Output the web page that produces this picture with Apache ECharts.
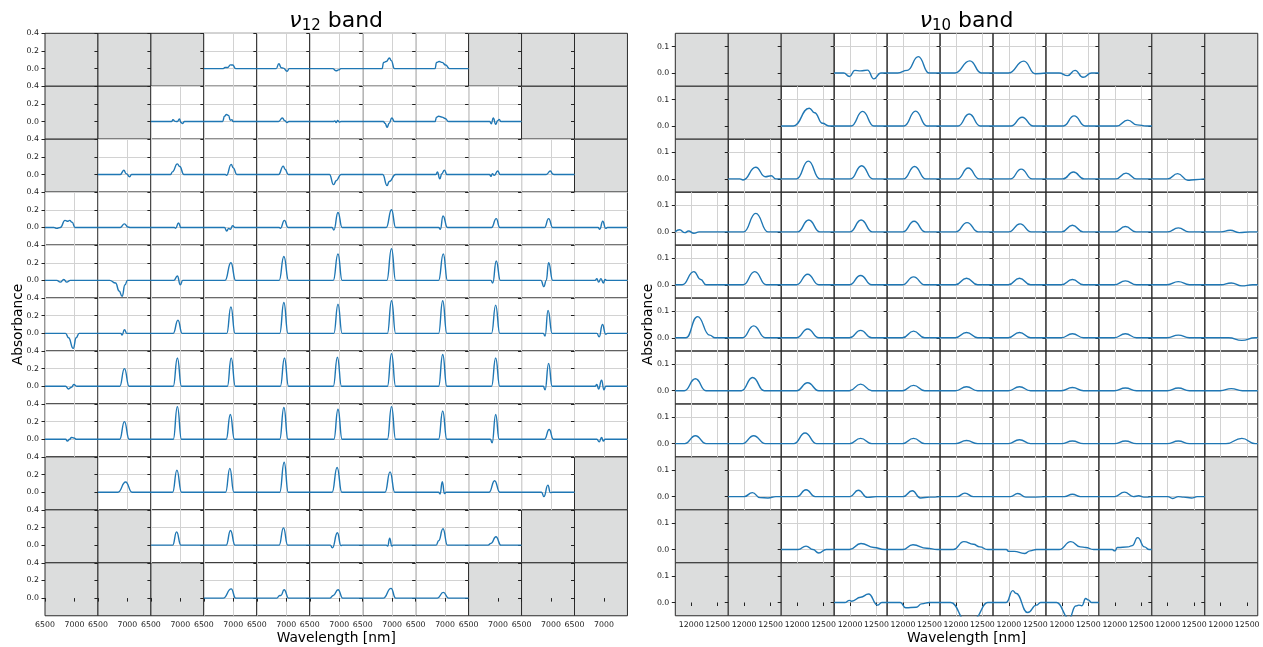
<!DOCTYPE html>
<html>
<head>
<meta charset="utf-8">
<title>Absorbance maps of the ν12 and ν10 bands</title>
<script src="https://cdn.jsdelivr.net/npm/echarts@6/dist/echarts.min.js"></script>
<style>
  html, body { margin: 0; padding: 0; background: #ffffff; }
  #chart { width: 1263px; height: 647px; }
</style>
</head>
<body>
<div id="chart"></div>
<script>
// ---------- tick values ----------
const nu12XTicks = [6500, 7000];
const nu12YTicks = [0, 0.2, 0.4];
const nu10XTicks = [12000, 12500];
const nu10YTicks = [0, 0.1];

// ---------- ν12 band spectra: one row of the 11x11 map per array, null = no data ----------
// each spectrum is a list of [wavelength nm, absorbance] points
const nu12Row0 = [null, null, null,
  [[6500,0],[6830,0],[6860,0.012],[6905,0.012],[6950,0.042],[6990,0.04],[7040,0],[7400,0]],
  [[6500,0],[6830,0],[6875,0.055],[6915,0.01],[6950,0.005],[7015,-0.03],[7050,0],[7400,0]],
  [[6500,0],[6890,0],[6950,-0.025],[6990,-0.015],[7030,0],[7400,0]],
  [[6500,0],[6830,0],[6855,0.07],[6900,0.08],[6955,0.12],[6985,0.09],[7040,0],[7400,0]],
  [[6500,0],[6830,0],[6855,0.07],[6900,0.08],[6950,0.07],[7010,0.04],[7075,0],[7400,0]],
  null, null, null];
const nu12Row1 = [null, null,
  [[6500,0],[6850,0],[6875,0.02],[6915,0.002],[6950,0],[6985,0.03],[7010,-0.01],[7040,-0.022],[7070,0],[7400,0]],
  [[6500,0],[6820,0],[6850,0.06],[6885,0.08],[6920,0.07],[6950,0.015],[6975,0.02],[7000,0],[7400,0]],
  [[6500,0],[6870,0],[6935,0.04],[6975,0.01],[7015,-0.01],[7045,0],[7400,0]],
  [[6500,0],[6900,0],[6925,0.008],[6950,-0.01],[6975,0.012],[7000,-0.005],[7030,0],[7400,0]],
  [[6500,0],[6850,0],[6880,-0.02],[6915,-0.065],[6950,-0.02],[6995,0.04],[7040,0],[7400,0]],
  [[6500,0],[6830,0],[6855,0.05],[6890,0.06],[6950,0.05],[7000,0.035],[7060,0],[7400,0]],
  [[6500,0],[6860,0],[6885,-0.025],[6920,0.04],[6960,-0.03],[6995,0.01],[7020,0.025],[7050,0],[7400,0]],
  null, null];
const nu12Row2 = [null,
  [[6500,0],[6880,0],[6940,0.048],[6980,0.01],[7040,-0.025],[7070,0],[7400,0]],
  [[6500,0],[6835,0],[6865,0.03],[6950,0.12],[6990,0.09],[7060,0],[7400,0]],
  [[6500,0],[6865,0],[6885,-0.01],[6965,0.115],[7000,0.075],[7060,0],[7400,0]],
  [[6500,0],[6870,0],[6950,0.095],[6980,0.06],[7035,0],[7400,0]],
  [[6500,0],[6835,0],[6905,-0.115],[6950,-0.07],[7030,0],[7400,0]],
  [[6500,0],[6840,0],[6915,-0.125],[6950,-0.08],[7060,0],[7400,0]],
  [[6500,0],[6845,0],[6870,0.03],[6910,-0.05],[6945,0.01],[6990,0.05],[7030,0],[7400,0]],
  [[6500,0],[6855,0],[6880,-0.02],[6905,0.01],[6935,-0.01],[6995,0.04],[7035,0],[7400,0]],
  [[6500,0],[6920,0],[6990,0.04],[7030,0.005],[7060,0],[7400,0]],
  null];
const nu12Row3 = [
  [[6500,0],[6650,0],[6700,-0.01],[6760,0],[6840,0.08],[6890,0.07],[6920,0.08],[6960,0.06],[7010,0],[7400,0]],
  [[6500,0],[6880,0],[6950,0.04],[7010,0.005],[7050,0],[7400,0]],
  [[6500,0],[6900,0],[6920,-0.01],[6970,0.05],[7010,0],[7400,0]],
  [[6500,0],[6850,0],[6890,-0.04],[6920,-0.01],[6950,-0.02],[6990,0.02],[7030,0],[7400,0]],
  [[6500,0],[6880,0],[6900,-0.01],[6970,0.08],[7030,0],[7400,0]],
  [[6500,0],[6880,0],[6910,-0.03],[6980,0.17],[7050,0],[7400,0]],
  [[6500,0],[6900,0],[6990,0.2],[7060,0],[7400,0]],
  [[6500,0],[6890,0],[6920,-0.02],[6965,0.13],[7040,0],[7400,0]],
  [[6500,0],[6890,0],[6970,0.1],[7030,0],[7400,0]],
  [[6500,0],[6890,0],[6960,0.1],[7030,0],[7400,0]],
  [[6500,0],[6900,0],[6930,-0.02],[6980,0.07],[7030,-0.01],[7060,0],[7400,0]]];
const nu12Row4 = [
  [[6500,0],[6700,0],[6760,-0.02],[6820,0.01],[6870,-0.02],[6930,0],[7400,0]],
  [[6500,0],[6700,0],[6800,-0.03],[6860,-0.12],[6910,-0.18],[6960,-0.05],[7000,0],[7400,0]],
  [[6500,0],[6890,0],[6950,0.05],[7000,-0.05],[7040,0],[7400,0]],
  [[6500,0],[6860,0],[6960,0.2],[7040,0],[7400,0]],
  [[6500,0],[6880,0],[6960,0.27],[7040,0],[7400,0]],
  [[6500,0],[6900,0],[6980,0.3],[7050,0],[7400,0]],
  [[6500,0],[6910,0],[6990,0.36],[7060,0],[7400,0]],
  [[6500,0],[6890,0],[6970,0.3],[7040,0],[7400,0]],
  [[6500,0],[6880,0],[6910,-0.03],[6970,0.22],[7040,0],[7400,0]],
  [[6500,0],[6830,0],[6880,-0.07],[6920,0],[6960,0.2],[7030,0],[7400,0]],
  [[6500,0],[6850,0],[6880,0.02],[6910,-0.02],[6950,0.02],[6990,-0.03],[7020,0.01],[7050,0],[7400,0]]];
const nu12Row5 = [
  [[6500,0],[6850,0],[6900,-0.05],[6980,-0.17],[7030,-0.05],[7080,0],[7400,0]],
  [[6500,0],[6890,0],[6910,-0.02],[6950,0.04],[6990,0],[7400,0]],
  [[6500,0],[6880,0],[6960,0.15],[7030,0],[7400,0]],
  [[6500,0],[6890,0],[6960,0.3],[7030,0],[7400,0]],
  [[6500,0],[6890,0],[6960,0.35],[7030,0],[7400,0]],
  [[6500,0],[6910,0],[6980,0.33],[7050,0],[7400,0]],
  [[6500,0],[6920,0],[6990,0.37],[7060,0],[7400,0]],
  [[6500,0],[6890,0],[6960,0.37],[7030,0],[7400,0]],
  [[6500,0],[6890,0],[6960,0.32],[7030,0],[7400,0]],
  [[6500,0],[6870,0],[6900,-0.03],[6950,0.26],[7020,0],[7400,0]],
  [[6500,0],[6880,0],[6920,-0.04],[6975,0.1],[7030,-0.01],[7060,0],[7400,0]]];
const nu12Row6 = [
  [[6500,0],[6850,0],[6900,-0.03],[6950,-0.01],[6990,0.02],[7040,0],[7400,0]],
  [[6500,0],[6870,0],[6950,0.2],[7030,0],[7400,0]],
  [[6500,0],[6880,0],[6950,0.32],[7020,0],[7400,0]],
  [[6500,0],[6900,0],[6965,0.32],[7035,0],[7400,0]],
  [[6500,0],[6900,0],[6970,0.32],[7040,0],[7400,0]],
  [[6500,0],[6900,0],[6970,0.33],[7040,0],[7400,0]],
  [[6500,0],[6920,0],[6990,0.37],[7060,0],[7400,0]],
  [[6500,0],[6890,0],[6960,0.36],[7030,0],[7400,0]],
  [[6500,0],[6890,0],[6960,0.32],[7030,0],[7400,0]],
  [[6500,0],[6870,0],[6900,-0.04],[6960,0.26],[7020,0],[7400,0]],
  [[6500,0],[6850,0],[6880,0.02],[6910,-0.03],[6960,0.07],[7000,-0.04],[7030,0],[7400,0]]];
const nu12Row7 = [
  [[6500,0],[6850,0],[6880,-0.02],[6920,0],[6950,0.02],[6990,0.015],[7030,0],[7400,0]],
  [[6500,0],[6870,0],[6950,0.2],[7030,0],[7400,0]],
  [[6500,0],[6880,0],[6950,0.37],[7020,0],[7400,0]],
  [[6500,0],[6880,0],[6950,0.28],[7020,0],[7400,0]],
  [[6500,0],[6890,0],[6960,0.36],[7030,0],[7400,0]],
  [[6500,0],[6910,0],[6980,0.34],[7050,0],[7400,0]],
  [[6500,0],[6920,0],[6990,0.37],[7060,0],[7400,0]],
  [[6500,0],[6890,0],[6960,0.32],[7030,0],[7400,0]],
  [[6500,0],[6870,0],[6900,-0.04],[6960,0.28],[7020,0],[7400,0]],
  [[6500,0],[6890,0],[6970,0.11],[7040,0],[7400,0]],
  [[6500,0],[6880,0],[6920,-0.03],[6960,0.02],[6990,-0.02],[7020,0],[7400,0]]];
const nu12Row8 = [null,
  [[6500,0],[6840,0],[6970,0.115],[7080,0],[7400,0]],
  [[6500,0],[6870,0],[6942,0.25],[7020,0],[7400,0]],
  [[6500,0],[6870,0],[6942,0.27],[7010,0],[7400,0]],
  [[6500,0],[6890,0],[6965,0.34],[7035,0],[7400,0]],
  [[6500,0],[6880,0],[6965,0.28],[7045,0],[7400,0]],
  [[6500,0],[6880,0],[6965,0.23],[7045,0],[7400,0]],
  [[6500,0],[6890,0],[6915,-0.02],[6953,0.12],[6990,-0.015],[7020,0],[7400,0]],
  [[6500,0],[6850,0],[6942,0.13],[7030,0],[7400,0]],
  [[6500,0],[6840,0],[6880,-0.05],[6948,0.08],[6990,-0.005],[7030,0],[7400,0]],
  null];
const nu12Row9 = [null, null,
  [[6500,0],[6870,0],[6937,0.15],[7010,0],[7400,0]],
  [[6500,0],[6880,0],[6953,0.166],[7030,0],[7400,0]],
  [[6500,0],[6880,0],[6953,0.196],[7025,0],[7400,0]],
  [[6500,0],[6850,0],[6885,-0.03],[6970,0.14],[7030,-0.005],[7050,0],[7400,0]],
  [[6500,0],[6900,0],[6925,-0.01],[6959,0.08],[6995,-0.01],[7020,0],[7400,0]],
  [[6500,0],[6850,0],[6890,0.05],[6965,0.185],[7040,0],[7400,0]],
  [[6500,0],[6830,0],[6880,0.02],[6965,0.095],[7050,0],[7400,0]],
  null, null];
const nu12Row10 = [null, null, null,
  [[6500,0],[6830,0],[6965,0.105],[7040,0],[7400,0]],
  [[6500,0],[6840,0],[6890,0.03],[6910,0.03],[6965,0.095],[7040,0],[7400,0]],
  [[6500,0],[6840,0],[6900,0.03],[6982,0.095],[7060,0],[7400,0]],
  [[6500,0],[6850,0],[6982,0.11],[7060,0],[7400,0]],
  [[6500,0],[6870,0],[6970,0.065],[7060,0],[7400,0]],
  null, null, null];

// ---------- ν10 band spectra ----------
const nu10Row0 = [null, null, null,
  [[11700,0],[11880,0],[11990,-0.013],[12090,0.01],[12200,0.008],[12330,0.011],[12450,-0.022],[12580,0],[12700,0]],
  [[11700,0],[11900,0],[12080,0.01],[12290,0.062],[12490,0],[12700,0]],
  [[11700,0],[11980,0],[12263,0.046],[12480,0],[12700,0]],
  [[11700,0],[11990,0],[12282,0.045],[12500,-0.003],[12700,0]],
  [[11700,0],[11950,0],[12107,-0.01],[12250,0.01],[12400,-0.016],[12560,0],[12700,0]],
  null, null, null];
const nu10Row1 = [null, null,
  [[11700,0],[11930,0],[12230,0.067],[12330,0.05],[12480,0.01],[12600,0],[12700,0]],
  [[11700,0],[12020,0],[12238,0.055],[12450,0],[12700,0]],
  [[11700,0],[12020,0],[12238,0.056],[12450,0],[12700,0]],
  [[11700,0],[12040,0],[12250,0.045],[12460,0],[12700,0]],
  [[11700,0],[12040,0],[12250,0.033],[12460,0],[12700,0]],
  [[11700,0],[12030,0],[12232,0.038],[12440,0],[12700,0]],
  [[11700,0],[12040,0],[12244,0.022],[12420,0.004],[12600,0],[12700,0]],
  null, null];
const nu10Row2 = [null,
  [[11700,0],[11920,0],[11980,-0.004],[12219,0.044],[12400,0.008],[12510,0.012],[12600,0],[12700,0]],
  [[11700,0],[11990,0],[12213,0.067],[12430,0],[12700,0]],
  [[11700,0],[12010,0],[12219,0.05],[12430,0],[12700,0]],
  [[11700,0],[12010,0],[12219,0.047],[12430,0],[12700,0]],
  [[11700,0],[12030,0],[12232,0.041],[12440,0],[12700,0]],
  [[11700,0],[12030,0],[12232,0.037],[12440,0],[12700,0]],
  [[11700,0],[12020,0],[12219,0.026],[12420,0],[12700,0]],
  [[11700,0],[12020,0],[12213,0.022],[12410,0],[12700,0]],
  [[11700,0],[12000,0],[12188,0.02],[12380,-0.005],[12500,-0.003],[12700,0]],
  null];
const nu10Row3 = [
  [[11700,0],[11780,0.008],[11880,-0.003],[11950,0.003],[12050,-0.005],[12150,0],[12700,0]],
  [[11700,0],[11990,0],[12220,0.07],[12450,0],[12700,0]],
  [[11700,0],[12010,0],[12220,0.045],[12430,0],[12700,0]],
  [[11700,0],[12000,0],[12210,0.045],[12420,0],[12700,0]],
  [[11700,0],[12000,0],[12210,0.04],[12420,0],[12700,0]],
  [[11700,0],[12000,0],[12210,0.035],[12420,0],[12700,0]],
  [[11700,0],[12000,0],[12210,0.03],[12420,0],[12700,0]],
  [[11700,0],[12000,0],[12200,0.025],[12400,0],[12700,0]],
  [[11700,0],[12000,0],[12200,0.02],[12400,0],[12700,0]],
  [[11700,0],[12000,0],[12200,0.015],[12400,0],[12700,0]],
  [[11700,0],[12000,0],[12180,0.006],[12350,-0.003],[12550,0],[12700,0]]];
const nu10Row4 = [
  [[11700,0],[11830,0],[12050,0.05],[12180,0.02],[12280,0],[12700,0]],
  [[11700,0],[11980,0],[12200,0.05],[12420,0],[12700,0]],
  [[11700,0],[11990,0],[12200,0.04],[12410,0],[12700,0]],
  [[11700,0],[11990,0],[12200,0.035],[12410,0],[12700,0]],
  [[11700,0],[11990,0],[12200,0.03],[12410,0],[12700,0]],
  [[11700,0],[11990,0],[12200,0.025],[12410,0],[12700,0]],
  [[11700,0],[11990,0],[12200,0.025],[12410,0],[12700,0]],
  [[11700,0],[11990,0],[12200,0.02],[12410,0],[12700,0]],
  [[11700,0],[11990,0],[12200,0.015],[12410,0],[12700,0]],
  [[11700,0],[11990,0],[12200,0.012],[12410,0],[12700,0]],
  [[11700,0],[12000,0],[12200,0.007],[12400,-0.004],[12600,0],[12700,0]]];
const nu10Row5 = [
  [[11700,0],[11900,0],[12120,0.08],[12350,0.01],[12450,0],[12700,0]],
  [[11700,0],[11970,0],[12180,0.045],[12400,0],[12700,0]],
  [[11700,0],[11990,0],[12200,0.033],[12410,0],[12700,0]],
  [[11700,0],[11990,0],[12200,0.028],[12410,0],[12700,0]],
  [[11700,0],[11990,0],[12200,0.025],[12410,0],[12700,0]],
  [[11700,0],[11990,0],[12200,0.02],[12410,0],[12700,0]],
  [[11700,0],[11990,0],[12200,0.02],[12410,0],[12700,0]],
  [[11700,0],[11990,0],[12200,0.015],[12410,0],[12700,0]],
  [[11700,0],[11990,0],[12200,0.015],[12410,0],[12700,0]],
  [[11700,0],[11990,0],[12200,0.01],[12410,0],[12700,0]],
  [[11700,0],[12150,0],[12400,-0.01],[12650,0],[12700,0]]];
const nu10Row6 = [
  [[11700,0],[11870,0],[12080,0.045],[12280,0],[12700,0]],
  [[11700,0],[11950,0],[12160,0.05],[12380,0],[12700,0]],
  [[11700,0],[11990,0],[12200,0.03],[12410,0],[12700,0]],
  [[11700,0],[11990,0],[12200,0.025],[12410,0],[12700,0]],
  [[11700,0],[11990,0],[12200,0.02],[12410,0],[12700,0]],
  [[11700,0],[11990,0],[12200,0.015],[12410,0],[12700,0]],
  [[11700,0],[11990,0],[12200,0.015],[12410,0],[12700,0]],
  [[11700,0],[11990,0],[12200,0.012],[12410,0],[12700,0]],
  [[11700,0],[11990,0],[12200,0.01],[12410,0],[12700,0]],
  [[11700,0],[11990,0],[12200,0.01],[12410,0],[12700,0]],
  [[11700,0],[11990,0],[12200,0.008],[12410,0],[12700,0]]];
const nu10Row7 = [
  [[11700,0],[11880,0],[12080,0.03],[12280,0],[12700,0]],
  [[11700,0],[11970,0],[12180,0.03],[12400,0],[12700,0]],
  [[11700,0],[11940,0],[12150,0.04],[12370,0],[12700,0]],
  [[11700,0],[11990,0],[12200,0.02],[12410,0],[12700,0]],
  [[11700,0],[11990,0],[12200,0.02],[12410,0],[12700,0]],
  [[11700,0],[11990,0],[12200,0.012],[12410,0],[12700,0]],
  [[11700,0],[11990,0],[12200,0.015],[12410,0],[12700,0]],
  [[11700,0],[11990,0],[12200,0.01],[12410,0],[12700,0]],
  [[11700,0],[11990,0],[12200,0.01],[12410,0],[12700,0]],
  [[11700,0],[11990,0],[12200,0.01],[12410,0],[12700,0]],
  [[11700,0],[12100,0],[12400,0.02],[12650,0],[12700,0]]];
const nu10Row8 = [null,
  [[11700,0],[12000,0],[12156,0.015],[12300,-0.004],[12450,-0.005],[12600,0],[12700,0]],
  [[11700,0],[12000,0],[12169,0.026],[12340,0],[12700,0]],
  [[11700,0],[12000,0],[12156,0.024],[12330,-0.003],[12500,0],[12700,0]],
  [[11700,0],[12000,0],[12175,0.022],[12330,-0.005],[12500,-0.002],[12700,0]],
  [[11700,0],[12020,0],[12169,0.013],[12330,0],[12700,0]],
  [[11700,0],[12030,0],[12169,0.012],[12320,-0.002],[12700,0]],
  [[11700,0],[12050,0],[12200,0.009],[12350,0],[12700,0]],
  [[11700,0],[12000,0],[12182,0.017],[12350,0],[12450,0.003],[12550,-0.002],[12700,0]],
  [[11700,0],[12000,0],[12094,-0.007],[12200,0],[12300,-0.002],[12450,-0.005],[12560,0],[12700,0]],
  null];
const nu10Row9 = [null, null,
  [[11700,0],[12020,0],[12169,0.013],[12300,0],[12407,-0.013],[12550,0],[12700,0]],
  [[11700,0],[11990,0],[12207,0.023],[12450,0.008],[12650,0],[12700,0]],
  [[11700,0],[11990,0],[12188,0.018],[12450,0.005],[12650,0],[12700,0]],
  [[11700,0],[11950,0],[12150,0.03],[12330,0.02],[12450,0.01],[12600,0],[12700,0]],
  [[11700,0],[11950,0],[12000,-0.007],[12100,-0.007],[12294,-0.015],[12400,-0.005],[12520,0],[12700,0]],
  [[11700,0],[11950,0],[12169,0.03],[12350,0.01],[12450,0.008],[12600,0],[12700,0]],
  [[11700,0],[11950,0],[12000,-0.005],[12050,0.008],[12250,0.01],[12330,0.015],[12432,0.045],[12560,0.01],[12650,0],[12700,0]],
  null, null];
const nu10Row10 = [null, null, null,
  [[11700,0],[11900,0],[11990,0.008],[12030,0.005],[12200,0.02],[12350,0.032],[12520,-0.01],[12600,0],[12700,0]],
  [[11700,0],[11950,0],[12050,-0.02],[12250,-0.018],[12350,-0.005],[12500,0],[12700,0]],
  [[11700,0],[11900,0],[12200,-0.07],[12350,-0.06],[12600,0],[12700,0]],
  [[11700,0],[11950,0],[12075,0.045],[12130,0.035],[12357,-0.038],[12520,-0.01],[12600,0],[12700,0]],
  [[11700,0],[11900,0],[12138,-0.06],[12263,-0.013],[12320,-0.01],[12380,-0.012],[12450,0.015],[12500,0.01],[12560,0],[12700,0]],
  null, null, null];

const nu12Rows = [nu12Row0, nu12Row1, nu12Row2, nu12Row3, nu12Row4, nu12Row5, nu12Row6, nu12Row7, nu12Row8, nu12Row9, nu12Row10];
const nu10Rows = [nu10Row0, nu10Row1, nu10Row2, nu10Row3, nu10Row4, nu10Row5, nu10Row6, nu10Row7, nu10Row8, nu10Row9, nu10Row10];

// ---------- layout ----------
const FONT = "'DejaVu Sans', sans-serif";
const CELL = 52.95;
const TOP = 33.3;
const LINE_BLUE = '#1f77b4';
const EMPTY_FILL = '#dcdddd';
const GRID_GREY = '#d2d2d2';

const grids = [], xAxes = [], yAxes = [], series = [];

// one small axes per map position; empty positions are filled grey and carry no grid lines
function addPanel(rows, left, cfg) {
  const n = rows.length;
  rows.forEach((row, r) => {
    row.forEach((spectrum, c) => {
      const idx = grids.length;
      const empty = spectrum === null;
      const bottomRow = r === n - 1;
      const firstCol = c === 0;
      grids.push({
        left: left + c * CELL, top: TOP + r * CELL, width: CELL, height: CELL,
        show: true, backgroundColor: empty ? EMPTY_FILL : 'rgba(0,0,0,0)',
        borderColor: '#2b2b2b', borderWidth: 1, containLabel: false
      });
      // split lines follow the axisTick customValues, so they sit on the tick values only
      xAxes.push({
        gridIndex: idx, type: 'value', min: cfg.xMin, max: cfg.xMax,
        axisLine: { show: false },
        axisTick: { show: bottomRow, customValues: cfg.xTicks, length: 3.5, lineStyle: { color: '#222', width: 1 } },
        axisLabel: { show: bottomRow, customValues: cfg.xTicks, hideOverlap: false, fontSize: 7.8, fontFamily: FONT,
                     color: '#1a1a1a', margin: 5, formatter: v => String(v) },
        splitLine: { show: !empty, lineStyle: { color: GRID_GREY, width: 1 } }
      });
      yAxes.push({
        gridIndex: idx, type: 'value', min: cfg.yMin, max: cfg.yMax,
        axisLine: { show: false },
        axisTick: { show: true, customValues: cfg.yTicks, length: 3.5, lineStyle: { color: '#222', width: 1 } },
        axisLabel: { show: firstCol, customValues: cfg.yTicks, hideOverlap: false, fontSize: 7.8, fontFamily: FONT,
                     color: '#1a1a1a', margin: 6, formatter: v => v.toFixed(1) },
        splitLine: { show: !empty, lineStyle: { color: GRID_GREY, width: 1 } }
      });
      if (!empty) {
        series.push({
          type: 'line', xAxisIndex: idx, yAxisIndex: idx, data: spectrum,
          showSymbol: false, smooth: 0.5, smoothMonotone: 'x', clip: true,
          lineStyle: { color: LINE_BLUE, width: 1.4 }, silent: true
        });
      }
    });
  });
}

addPanel(nu12Rows, 45, { xMin: 6500, xMax: 7400, yMin: -0.2, yMax: 0.4, xTicks: nu12XTicks, yTicks: nu12YTicks });
addPanel(nu10Rows, 675.3, { xMin: 11700, xMax: 12700, yMin: -0.05, yMax: 0.15, xTicks: nu10XTicks, yTicks: nu10YTicks });

const panelW = CELL * 11;
const titleRich = {
  nu: { fontSize: 22, fontStyle: 'italic', fontFamily: FONT, fill: '#000' },
  sub: { fontSize: 15, fontFamily: FONT, fill: '#000', padding: [11, 0, 0, 0] },
  t: { fontSize: 22, fontFamily: FONT, fill: '#000' }
};
function panelTexts(left, label) {
  const cx = left + panelW / 2;
  return [
    { type: 'text', x: cx, y: 21, silent: true,
      style: { text: '{nu|ν}{sub|' + label + '}{t| band}', align: 'center', verticalAlign: 'middle', rich: titleRich } },
    { type: 'text', x: cx, y: 638, silent: true,
      style: { text: 'Wavelength [nm]', align: 'center', verticalAlign: 'middle', fontSize: 13.8, fontFamily: FONT, fill: '#000' } },
    { type: 'text', x: left - 27, y: TOP + panelW / 2, rotation: Math.PI / 2, silent: true,
      style: { text: 'Absorbance', align: 'center', verticalAlign: 'middle', fontSize: 13.8, fontFamily: FONT, fill: '#000' } }
  ];
}

const chart = echarts.init(document.getElementById('chart'), null, { renderer: 'canvas' });
chart.setOption({
  animation: false,
  backgroundColor: '#ffffff',
  grid: grids, xAxis: xAxes, yAxis: yAxes, series: series,
  graphic: [].concat(panelTexts(45, '12'), panelTexts(675.3, '10'))
});
</script>
</body>
</html>
